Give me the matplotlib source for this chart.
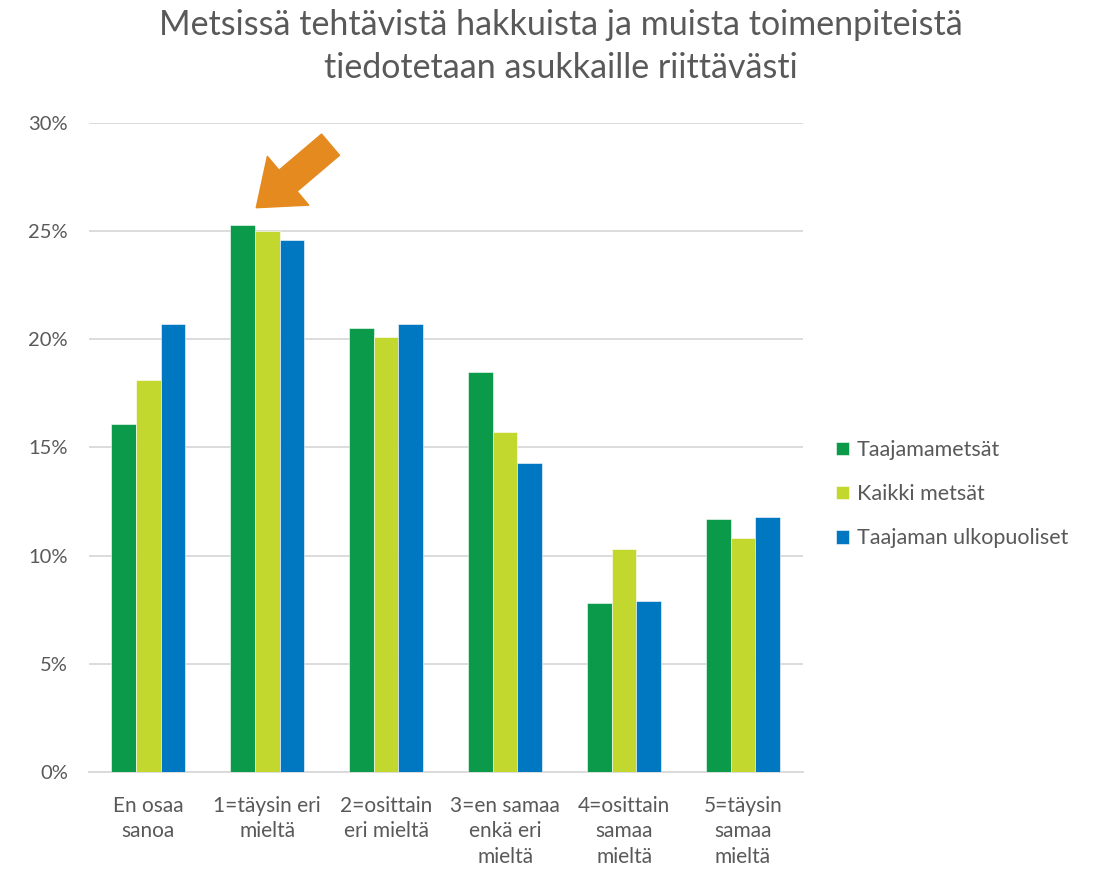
import matplotlib.pyplot as plt
import numpy as np
from matplotlib.patches import FancyArrowPatch

categories = ["En osaa\nsanoa", "1=täysin eri\nmieltä", "2=osittain\neri mieltä",
              "3=en samaa\nenkä eri\nmieltä", "4=osittain\nsamaa\nmieltä", "5=täysin\nsamaa\nmieltä"]
taajamametsat = [16.1, 25.3, 20.5, 18.5, 7.8, 11.7]
kaikki_metsat = [18.1, 25.0, 20.1, 15.7, 10.3, 10.8]
ulkopuoliset = [20.7, 24.6, 20.7, 14.3, 7.9, 11.8]
series_names = ["Taajamametsät", "Kaikki metsät", "Taajaman ulkopuoliset"]
colors = ["#0A9A4A", "#C2D82F", "#0078C1"]

grey = "#595959"
plt.rcParams['font.family'] = ['Lato', 'DejaVu Sans']

fig = plt.figure(figsize=(11.1, 8.71), dpi=100)
ax = fig.add_axes([0.080, 0.1137, 0.643, 0.7451])

x = np.arange(len(categories))
w = 0.207
for i, (vals, name) in enumerate(zip([taajamametsat, kaikki_metsat, ulkopuoliset], series_names)):
    ax.bar(x + (i - 1) * w, np.array(vals) / 100, w, color=colors[i], label=name,
           edgecolor="white", linewidth=0.4, zorder=3)

ax.set_xlim(-0.5, len(categories) - 0.5)
ax.set_ylim(0, 0.30)
ax.set_yticks(np.arange(0, 0.31, 0.05))
ax.set_yticklabels([f"{int(round(v * 100))}%" for v in np.arange(0, 0.31, 0.05)])
ax.set_xticks(x)
ax.set_xticklabels(categories, linespacing=1.37)
ax.tick_params(axis='both', length=0, colors=grey)
ax.tick_params(axis='x', pad=17, labelsize=15)
ax.tick_params(axis='y', pad=15, labelsize=14.5)
ax.yaxis.grid(True, color="#D9D9D9", linewidth=1.3, zorder=0)
for s in ["top", "right", "left"]:
    ax.spines[s].set_visible(False)
ax.spines["bottom"].set_color("#D9D9D9")
ax.spines["bottom"].set_linewidth(1.3)

# arrow pointing at the second group
arrow = FancyArrowPatch((1.55, 0.2908), (0.89, 0.2600),
                        arrowstyle="simple,head_width=2.3,head_length=1.5,tail_width=1.0",
                        mutation_scale=20, color="#E58A1F", zorder=4)
ax.add_patch(arrow)

fig.text(0.505, 0.99, "Metsissä tehtävistä hakkuista ja muista toimenpiteistä\ntiedotetaan asukkaille riittävästi",
         ha="center", va="top", fontsize=24.5, color=grey, linespacing=1.45)

leg = ax.legend(loc="center left", bbox_to_anchor=(1.02, 0.428), frameon=False, fontsize=15.5,
                labelcolor=grey, handlelength=0.6, handleheight=0.6, handletextpad=0.35, labelspacing=1.12)

fig.savefig("out.png", dpi=100)
